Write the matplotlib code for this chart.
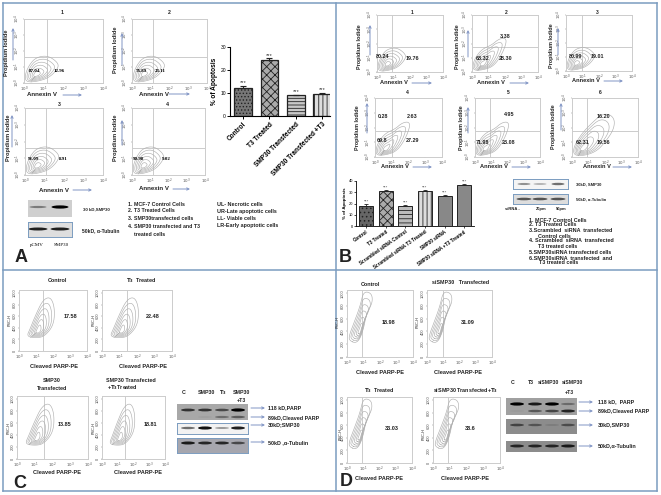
import numpy as np
import matplotlib
matplotlib.use('Agg')
import matplotlib.pyplot as plt
from matplotlib.patches import Ellipse

plt.rcParams['font.family'] = ['Liberation Sans', 'DejaVu Sans']
plt.rcParams['hatch.linewidth'] = 0.6

W, H = 661, 495
BLUE = '#7b9cc0'
ARROW = '#8094c4'
GRID = '#cccccc'
CONT = '#b0b0b0'

# bar charts
a_cats = ['Control', 'T3 Treated', 'SMP30 Transfected', 'SMP30 Transfected +T3']
a_vals = [12.2, 24.2, 9.0, 9.6]
a_errs = [0.8, 0.9, 0.2, 0.4]
b_cats = ['Control', 'T3 Treated', 'Scrambled siRNA Control', 'Scrambled siRNA T3 Treated',
          'SMP30 siRNA', 'SMP30 siRNA +T3 Treated']
b_vals = [17.5, 31.2, 17.8, 31.2, 27.0, 36.8]
b_errs = [2.4, 0.5, 1.2, 0.6, 0.8, 0.9]

# outer contours of the flow plots (decades, decades or FSC)
small_x = [0.1, 0.7, 1.3, 1.75, 1.7, 1.2, 0.6, 0.25, 0.05]
small_y = [0.05, 0.1, 0.35, 0.95, 1.3, 1.72, 1.6, 1.1, 0.5]
lobe_x = [0.1, 0.7, 1.3, 1.8, 2.1, 2.0, 1.6, 1.2, 0.6, 0.2, 0.05]
lobe_y = [0.1, 0.15, 0.4, 1.2, 2.1, 2.4, 2.3, 1.9, 1.6, 1.0, 0.5]
big_x = [0.1, 0.8, 1.5, 2.0, 2.5, 2.6, 2.3, 1.8, 1.2, 0.6, 0.1]
big_y = [0.1, 0.1, 0.4, 1.0, 1.8, 2.5, 2.9, 2.9, 2.3, 1.6, 0.7]
parp_c_x = [0.45, 1.0, 1.5, 2.05, 2.1, 1.85, 1.4, 0.95, 0.65]
parp_c_y = [250, 225, 250, 450, 750, 935, 880, 600, 380]
parp_d_x = [0.12, 0.6, 0.95, 1.2, 1.55, 1.5, 1.0, 0.8, 0.4, 0.15]
parp_d_y = [260, 210, 380, 700, 850, 1000, 1030, 800, 520, 350]

# flow plots: box left, right, top, bottom, quadrant x, quadrant y (pixels)
a_boxes = [(24, 103, 19, 83, 47, 57), (132, 207, 19, 83, 153, 57),
           (25, 103, 108, 175, 46, 148), (132, 205, 108, 175, 153, 148)]
b_boxes = [(377, 443, 15, 72, 392, 47), (472, 538, 15, 72, 487, 47), (566, 632, 15, 71, 582, 47),
           (375, 442, 98, 157, 392, 131), (475, 540, 98, 157, 490, 131), (572, 638, 98, 157, 587, 131)]
c_boxes = [(19, 87, 290, 351, 43), (102, 172, 290, 351, 127),
           (17, 88, 396, 459, 44), (102, 165, 396, 459, 125)]
d_boxes = [(347, 413, 290, 357, 362), (427, 492, 290, 357, 443),
           (347, 412, 397, 463, 362), (433, 500, 397, 463, 448)]
a_shapes = [(small_x, small_y)] * 4
b_shapes = [(small_x, small_y), (lobe_x, lobe_y), (small_x, small_y),
            (lobe_x, lobe_y), (lobe_x, lobe_y), (big_x, big_y)]

# blots: lane centres, strength per lane
c_lanes = [188, 205, 222, 238]
d_lanes = [517, 535, 552, 568]
c_parp = [0.8, 0.8, 0.7, 1.0]
c_cleaved = [0.0, 0.1, 0.5, 0.6]
c_smp = [0.6, 0.95, 0.4, 0.9]
c_tub = [0.9, 0.85, 0.85, 0.7]
d_parp = [1.0, 0.9, 1.0, 0.5]
d_cleaved = [0.1, 0.6, 0.7, 0.85]
d_smp = [0.7, 0.6, 0.3, 0.65]
d_tub = [0.85, 0.85, 0.85, 0.9]

fig = plt.figure(figsize=(W / 100, H / 100), dpi=100, facecolor='white')


def px_axes(x0, x1, y0, y1, **kw):
    return fig.add_axes([x0 / W, 1 - y1 / H, (x1 - x0) / W, (y1 - y0) / H], **kw)


page = px_axes(0, W, 0, H)
page.set_xlim(0, W)
page.set_ylim(H, 0)
page.axis('off')
page.set_zorder(5)


def txt(x, y, s, size=4, weight='bold', ha='center', va='center', **kw):
    page.text(x, y, s, fontsize=size, fontweight=weight, ha=ha, va=va, color='#222222', **kw)


def arrow(x0, y0, x1, y1):
    page.annotate('', xy=(x1, y1), xytext=(x0, y0),
                  arrowprops=dict(arrowstyle='->', color=ARROW, lw=0.7, mutation_scale=4,
                                  shrinkA=0, shrinkB=0))


def smooth(xs, ys, passes=3):
    p = np.column_stack([xs, ys]).astype(float)
    for _ in range(passes):
        q = np.roll(p, -1, axis=0)
        p = np.column_stack([0.75 * p + 0.25 * q, 0.25 * p + 0.75 * q]).reshape(-1, 2)
    return np.vstack([p, p[:1]])


def contours(ax, xs, ys, anchor):
    outer = smooth(xs, ys)
    for k in [1, 0.84, 0.68, 0.52, 0.36, 0.2]:
        ax.plot(anchor[0] + k * (outer[:, 0] - anchor[0]), anchor[1] + k * (outer[:, 1] - anchor[1]),
                color=CONT, lw=0.45)


def style_flow(ax, ylabels, yticks):
    ax.set_xlim(0, 4)
    ax.set_xticks(range(5))
    ax.set_xticklabels(['$10^{%d}$' % i for i in range(5)], fontsize=2.9, color='#555555')
    ax.set_yticks(yticks)
    ax.set_yticklabels(ylabels, fontsize=2.9, rotation=90, va='center', color='#555555')
    ax.tick_params(length=1, width=0.3, pad=0.4, color='#777777')
    for s in ax.spines.values():
        s.set_color(GRID)
        s.set_linewidth(0.7)


def quad_plot(box, shape):
    x0, x1, y0, y1, qx, qy = box
    ax = px_axes(x0, x1, y0, y1)
    ax.set_ylim(0, 4)
    style_flow(ax, ['$10^{%d}$' % i for i in range(5)], range(5))
    ax.axvline((qx - x0) / (x1 - x0) * 4, color=GRID, lw=0.7)
    ax.axhline((y1 - qy) / (y1 - y0) * 4, color=GRID, lw=0.7)
    contours(ax, shape[0], shape[1], (0.6, 0.5))


def parp_plot(box, shape, anchor):
    x0, x1, y0, y1, gx = box
    ax = px_axes(x0, x1, y0, y1)
    ax.set_ylim(0, 1050)
    ticks = [0, 200, 400, 600, 800, 1000]
    style_flow(ax, [str(t) for t in ticks], ticks)
    ax.axvline((gx - x0) / (x1 - x0) * 4, color=GRID, lw=0.7)
    contours(ax, shape[0], shape[1], anchor)


def blot(x0, x1, y0, y1, lanes, rows, bg='#9a9a9a', edge='none', bw=14):
    ax = px_axes(x0, x1, y0, y1)
    ax.set_xlim(x0, x1)
    ax.set_ylim(y1, y0)
    ax.set_facecolor(bg)
    ax.set_xticks([])
    ax.set_yticks([])
    for s in ax.spines.values():
        s.set_color(edge)
        s.set_linewidth(0.7)
    for row_y, strength in rows:
        for lx, st in zip(lanes, strength):
            if st <= 0:
                continue
            c = str(round(0.6 * (1 - st), 2))
            ax.add_patch(Ellipse((lx, row_y), bw, 1.2 + 2.0 * st, color=c, alpha=min(1, 0.3 + st * 0.7), lw=0))


# frame of the four panels
for xs, ys in [((3, 657), (2.5, 2.5)), ((3, 657), (270, 270)), ((3, 657), (491, 491)),
               ((3, 3), (2.5, 491)), ((657, 657), (2.5, 491)), ((335.5, 335.5), (2.5, 491))]:
    page.plot(xs, ys, color=BLUE, lw=1.1)
txt(21, 258, 'A', 13)
txt(345, 257, 'B', 13)
txt(20, 483, 'C', 13)
txt(346, 482, 'D', 13)

# panel A
for box, shape in zip(a_boxes, a_shapes):
    quad_plot(box, shape)
for x, y, s in [(62, 12, '1'), (169, 12, '2'), (59, 104, '3'), (167, 104, '4')]:
    txt(x, y, s, 3.8)
for x, y in [(7, 53), (116, 50), (9, 138), (116, 138)]:
    txt(x, y, 'Propidium Iodide', 4.1, rotation=90)
for x, y0, y1 in [(13, 60, 28), (122, 65, 33), (12, 147, 115), (122, 145, 120)]:
    arrow(x, y0, x, y1)
for (x, y, s) in [(35, 71, '87.04'), (59, 71, '12.96'), (141, 71, '76.89'), (160, 71, '23.11'),
                  (34, 159, '91.09'), (63, 159, '8.91'), (139, 159, '90.98'), (166, 159, '9.02')]:
    page.text(x, y, s, fontsize=3.6, fontweight='bold', family='Liberation Serif', ha='center', va='center')
for x, y, x0, x1 in [(42, 95, 63, 82), (154, 94, 169, 190), (54, 190, 73, 92), (154, 189, 173, 190)]:
    txt(x, y, 'Annexin V', 4.4)
    arrow(x0, y, x1, y)

ax = px_axes(230, 330, 47, 116)
ax.bar(range(4), a_vals, width=0.68, yerr=[[0] * 4, a_errs], color=['#777777', '#aaaaaa', '#c8c8c8', '#dddddd'],
       hatch=['.....', 'xxxx', '-----', '||||'], edgecolor='#222222', lw=0.9,
       error_kw=dict(lw=0.8, capsize=2, capthick=0.8, ecolor='#222222'))
ax.set_xlim(-0.5, 3.3)
ax.set_ylim(0, 30)
ax.set_yticks([0, 10, 20, 30])
ax.set_xticks(range(4))
ax.set_xticklabels(a_cats, rotation=45, ha='right', rotation_mode='anchor', fontsize=4.7, fontweight='bold')
ax.tick_params(axis='y', labelsize=3.6, length=2, width=0.7, pad=0.8)
ax.tick_params(axis='x', length=2, width=0.7, pad=1.5)
ax.set_ylabel('% of Apoptosis', fontsize=4.7, fontweight='bold', labelpad=1.5)
ax.spines[['top', 'right']].set_visible(False)
for i, v, e in zip(range(4), a_vals, a_errs):
    ax.text(i, v + e + 0.3, '***', ha='center', va='bottom', fontsize=4.2, color='#333333')

blot(28, 72, 200, 217, [38, 60], [(207, [0.5, 1.0])], bg='#cfcfcf', bw=17)
blot(28, 72, 222, 237, [38, 60], [(229, [0.9, 0.9])], bg='#dedede', edge=BLUE, bw=19)
txt(83, 209, '30 kD,SMP30', 3.2, ha='left')
txt(82, 231, '50kD, α-Tubulin', 3.6, ha='left')
page.text(37, 245, 'pCMV', fontsize=3.6, family='Liberation Serif', ha='center', va='center')
page.text(61, 245, 'SMP30', fontsize=3.6, family='Liberation Serif', ha='center', va='center')
for y, s in [(204, '1. MCF-7 Control Cells'), (211, '2. T3 Treated Cells'), (219, '3. SMP30transfected cells'),
             (226, '4. SMP30 transfected and T3'), (234, '    treated cells')]:
    txt(128, y, s, 3.8, ha='left')
for y, s in [(204, 'UL- Necrotic cells'), (211, 'UR-Late apoptotic cells'), (219, 'LL- Viable cells'),
             (226, 'LR-Early apoptotic cells')]:
    txt(217, y, s, 3.9, ha='left')

# panel B
for box, shape in zip(b_boxes, b_shapes):
    quad_plot(box, shape)
for x, y, s in [(412, 12, '1'), (506, 12, '2'), (597, 12, '3'), (407, 92, '4'), (508, 92, '5'), (600, 92, '6')]:
    txt(x, y, s, 3.6)
for x, y in [(359, 47), (457, 47), (552, 46), (357, 128), (461, 128), (554, 127)]:
    txt(x, y, 'Propidium Iodide', 3.9, rotation=90)
for x, y0, y1 in [(370, 55, 25), (468, 57, 30), (558, 55, 28), (367, 133, 103), (468, 133, 107), (561, 130, 103)]:
    arrow(x, y0, x, y1)
for x, y, s in [(383, 57, '80.24'), (412, 58, '19.76'), (483, 58, '68.32'), (506, 58, '28.30'),
                (505, 36, '3.38'), (576, 56, '80.99'), (597, 56, '19.01'), (383, 117, '0.28'),
                (412, 117, '2.63'), (382, 141, '69.8'), (413, 141, '27.29'), (483, 142, '71.98'),
                (509, 142, '23.08'), (509, 114, '4.95'), (583, 143, '62.31'), (603, 142, '19.56'),
                (603, 117, '16.20')]:
    txt(x, y, s, 3.9)
for x, y, x0, x1 in [(394, 83, 412, 432), (491, 83, 510, 529), (586, 81, 604, 623),
                     (395, 167, 413, 432), (494, 167, 512, 531), (597, 167, 613, 632)]:
    txt(x, y, 'Annexin V', 4.1)
    arrow(x0, y, x1, y)

ax = px_axes(356, 474, 181, 226)
ax.bar(range(6), b_vals, width=0.72, yerr=[[0] * 6, b_errs],
       color=['#666666', '#aaaaaa', '#bbbbbb', '#dddddd', '#888888', '#888888'],
       hatch=['....', 'xxxx', '----', '||||', '', ''], edgecolor='#222222', lw=0.7,
       error_kw=dict(lw=0.6, capsize=1.6, capthick=0.6, ecolor='#222222'))
ax.set_xlim(-0.52, 5.5)
ax.set_ylim(0, 40)
ax.set_yticks([0, 10, 20, 30, 40])
ax.set_xticks(range(6))
ax.set_xticklabels(b_cats, rotation=35, ha='right', rotation_mode='anchor', fontsize=3.3, fontweight='bold')
ax.tick_params(axis='y', labelsize=2.9, length=1.5, width=0.5, pad=0.5)
ax.tick_params(axis='x', length=1.5, width=0.5, pad=1)
ax.set_ylabel('% of Apoptosis', fontsize=3.2, fontweight='bold', labelpad=1)
ax.spines[['top', 'right']].set_visible(False)
for s in ax.spines.values():
    s.set_linewidth(0.6)
for i, v, e in zip(range(6), b_vals, b_errs):
    ax.text(i, v + e + 0.3, '***', ha='center', va='bottom', fontsize=3.2, color='#444444')

blot(513, 568, 179, 189, [524, 540, 558], [(184, [0.45, 0.3, 0.6])], bg='#f4f4f4', edge=BLUE, bw=13)
blot(513, 568, 194, 204, [524, 540, 558], [(199, [0.7, 0.7, 0.7])], bg='#dddddd', edge=BLUE, bw=15)
txt(576, 184, '30kD, SMP30', 3, ha='left')
txt(576, 199, '50kD, α-Tubulin', 3, ha='left')
for x, s in [(512, 'siRNA -'), (541, '20pm'), (561, '50pm')]:
    txt(x, 209, s, 3)
for x, y, s in [(529, 220, '1. MCF-7 Control Cells'), (529, 225, '2. T3 Treated Cells'),
                (529, 231, '3.Scrambled  siRNA  transfected'), (538, 236, 'Control cells'),
                (529, 241, '4. Scrambled  siRNA  transfected'), (538, 247, 'T3 treated cells'),
                (529, 252, '5.SMP30siRNA transfected cells'), (529, 258, '6.SMP30siRNA  transfected  and'),
                (539, 263, 'T3 treated cells')]:
    txt(x, y, s, 3.9, ha='left')

# panel C
for box in c_boxes:
    parp_plot(box, (parp_c_x, parp_c_y), (1.1, 330))
for x, y, s in [(57, 281, 'Control'), (141, 281, '$\\mathbf{T_3}$  Treated'), (52, 380, 'SMP30'),
                (52, 388, 'Transfected'), (131, 380, 'SMP30 Transfected'), (122, 388, '+$\\mathbf{T_3}$Treated')]:
    txt(x, y, s, 3.9)
for x, y, s in [(70, 316, '17.58'), (153, 316, '22.48'), (65, 425, '13.85'), (150, 425, '18.81')]:
    txt(x, y, s, 4)
for x, y in [(54, 367), (143, 367), (57, 472), (138, 472)]:
    txt(x, y, 'Cleaved PARP-PE', 4.1)
for x, y in [(10, 320), (94, 320), (9, 428), (94, 428)]:
    txt(x, y, 'FSC-H', 2.8, weight='normal', rotation=90)

blot(177, 248, 404, 420, c_lanes, [(410, c_parp), (417, c_cleaved)], bg='#a8a8a8')
blot(177, 248, 423, 434, c_lanes, [(428, c_smp)], bg='#f2f2f2', edge=BLUE)
blot(177, 248, 438, 453, c_lanes, [(443, c_tub)], bg='#a6a6ae', edge=BLUE)
for x, y, s in [(184, 393, 'C'), (206, 393, 'SMP30'), (223, 393, '$\\mathbf{T_3}$'), (241, 393, 'SMP30'), (241, 400, '+T3')]:
    txt(x, y, s, 3.8)
for y0, ly, s in [(408, 408, '118 kD,PARP'), (417, 418, '89kD,Cleaved PARP'),
                  (425, 425, '30kD;SMP30'), (442, 443, '50kD ,α-Tubulin')]:
    arrow(251, y0, 265, y0)
    txt(268, ly, s, 3.9, ha='left')

# panel D
for box in d_boxes:
    parp_plot(box, (parp_d_x, parp_d_y), (0.8, 400))
for x, y, s in [(370, 284, 'Control'), (461, 283, 'siSMP30   Transfected'), (379, 391, '$\\mathbf{T_3}$  Treated'),
                (466, 391, 'siSMP30 Transfected+$\\mathbf{T_3}$')]:
    txt(x, y, s, 3.9)
for x, y, s in [(388, 322, '18.98'), (468, 322, '31.09'), (392, 429, '33.03'), (470, 429, '38.6')]:
    txt(x, y, s, 4)
for x, y in [(380, 372), (458, 372), (379, 478), (465, 478)]:
    txt(x, y, 'Cleaved PARP-PE', 4.1)
for x, y in [(338, 322), (418, 322), (341, 434), (424, 434)]:
    txt(x, y, 'FSC-H', 2.8, weight='normal', rotation=90)

blot(506, 577, 398, 415, d_lanes, [(404, d_parp), (411, d_cleaved)], bg='#a0a0a0')
blot(506, 577, 419, 434, d_lanes, [(425, d_smp)], bg='#8c8c8c')
blot(506, 577, 441, 452, d_lanes, [(446, d_tub)], bg='#8c8c8c')
for x, y, s in [(513, 383, 'C'), (531, 383, 'T3'), (549, 383, 'siSMP30'), (573, 383, 'siSMP30'), (569, 392, '+T3')]:
    txt(x, y, s, 3.7)
for y, s in [(402, '118 kD,  PARP'), (411, '89kD,Cleaved PARP'), (425, '30kD,SMP30'), (446, '50kD,α-Tubulin')]:
    arrow(579, y, 593, y)
    txt(598, y, s, 3.9, ha='left')

fig.savefig('out.png', dpi=100)
